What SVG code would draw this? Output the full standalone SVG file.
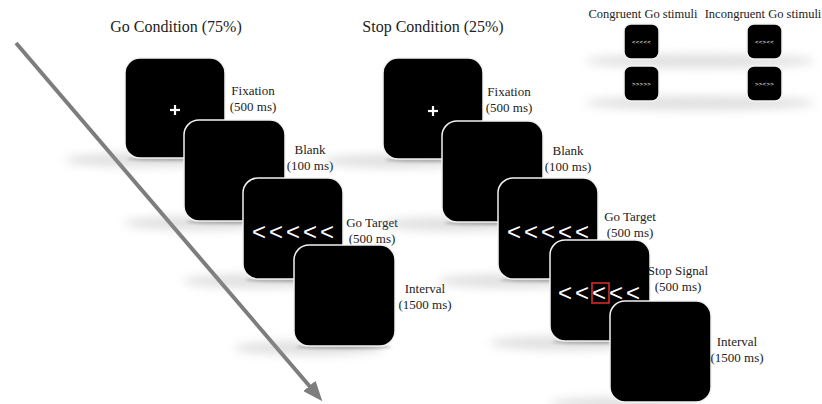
<svg xmlns="http://www.w3.org/2000/svg" width="822" height="404" viewBox="0 0 822 404">
  <style>
    .scr { fill: #000; stroke: #f2f2f2; stroke-width: 1.5; }
    .shd { fill: #9a9a9a; opacity: 0.3; filter: url(#blur); }
    .edge { fill: #555; opacity: 0.45; filter: url(#soft); }
    .lbl { font-family: "Liberation Serif", "Times New Roman", serif; font-size: 13px; fill: #222; text-anchor: middle; }
    .hdr { font-family: "Liberation Serif", "Times New Roman", serif; font-size: 12.5px; fill: #222; text-anchor: middle; }
    .ttl { font-family: "Liberation Serif", "Times New Roman", serif; font-size: 16px; fill: #222; text-anchor: middle; }
    .chev { font-family: "Liberation Sans", Arial, sans-serif; font-size: 24px; fill: #fff; letter-spacing: 3px; }
    .tiny { font-family: "Liberation Sans", Arial, sans-serif; font-size: 6px; fill: #fff; text-anchor: middle; letter-spacing: 0.3px; }
    .plus { stroke: #fff; stroke-width: 2.2; }
  </style>
  <defs>
    <filter id="blur" x="-50%" y="-300%" width="200%" height="700%">
      <feGaussianBlur stdDeviation="5"/>
    </filter>
    <filter id="soft" x="-20%" y="-300%" width="140%" height="700%">
      <feGaussianBlur stdDeviation="1.5"/>
    </filter>
    <marker id="head" markerUnits="userSpaceOnUse" markerWidth="20" markerHeight="16" refX="4" refY="8" orient="auto">
      <path d="M0,0 L20,8 L0,16 z" fill="#7d7d7d"/>
    </marker>
  </defs>
  <rect width="822" height="404" fill="#fff"/>

  <!-- time axis -->
  <g id="connectors">
    <line x1="16" y1="43" x2="312" y2="389" stroke="#7d7d7d" stroke-width="4" marker-end="url(#head)"/>
  </g>

  <!-- titles -->
  <text class="ttl" x="176" y="32">Go Condition (75%)</text>
  <text class="ttl" x="433" y="32">Stop Condition (25%)</text>

  <!-- Go condition sequence -->
  <g id="go-fixation">
    <ellipse class="shd" cx="140" cy="160" rx="75" ry="7"/>
    <ellipse class="edge" cx="175" cy="159" rx="48" ry="2"/>
    <rect class="scr" x="125" y="58" width="100" height="100" rx="15"/>
    <line class="plus" x1="170" y1="110" x2="180" y2="110"/>
    <line class="plus" x1="175" y1="105" x2="175" y2="115"/>
    <text class="lbl" x="253" y="95">Fixation</text>
    <text class="lbl" x="253" y="111">(500 ms)</text>
  </g>
  <g id="go-blank">
    <ellipse class="shd" cx="199" cy="223" rx="75" ry="7"/>
    <ellipse class="edge" cx="234" cy="222" rx="48" ry="2"/>
    <rect class="scr" x="184" y="120" width="101" height="101" rx="15"/>
    <text class="lbl" x="310" y="154">Blank</text>
    <text class="lbl" x="310" y="170">(100 ms)</text>
  </g>
  <g id="go-target">
    <ellipse class="shd" cx="258" cy="281" rx="75" ry="7"/>
    <ellipse class="edge" cx="293" cy="280" rx="48" ry="2"/>
    <rect class="scr" x="243" y="178" width="100" height="101" rx="15"/>
    <text class="chev" x="252" y="240">&lt;&lt;&lt;&lt;&lt;</text>
    <text class="lbl" x="372" y="227">Go Target</text>
    <text class="lbl" x="372" y="243">(500 ms)</text>
  </g>
  <g id="go-interval">
    <ellipse class="shd" cx="309" cy="348" rx="75" ry="7"/>
    <ellipse class="edge" cx="344" cy="347" rx="48" ry="2"/>
    <rect class="scr" x="294" y="245" width="101" height="101" rx="15"/>
    <text class="lbl" x="425" y="293">Interval</text>
    <text class="lbl" x="425" y="309">(1500 ms)</text>
  </g>

  <!-- Stop condition sequence -->
  <g id="stop-fixation">
    <ellipse class="shd" cx="398" cy="161" rx="75" ry="7"/>
    <ellipse class="edge" cx="433" cy="160" rx="48" ry="2"/>
    <rect class="scr" x="383" y="58" width="100" height="101" rx="15"/>
    <line class="plus" x1="428" y1="111" x2="438" y2="111"/>
    <line class="plus" x1="433" y1="106" x2="433" y2="116"/>
    <text class="lbl" x="509" y="96">Fixation</text>
    <text class="lbl" x="509" y="112">(500 ms)</text>
  </g>
  <g id="stop-blank">
    <ellipse class="shd" cx="457" cy="224" rx="75" ry="7"/>
    <ellipse class="edge" cx="492" cy="223" rx="48" ry="2"/>
    <rect class="scr" x="442" y="121" width="101" height="101" rx="15"/>
    <text class="lbl" x="568" y="155">Blank</text>
    <text class="lbl" x="568" y="171">(100 ms)</text>
  </g>
  <g id="stop-target">
    <ellipse class="shd" cx="513" cy="281" rx="75" ry="7"/>
    <ellipse class="edge" cx="548" cy="280" rx="48" ry="2"/>
    <rect class="scr" x="498" y="178" width="100" height="101" rx="15"/>
    <text class="chev" x="507" y="240">&lt;&lt;&lt;&lt;&lt;</text>
    <text class="lbl" x="630" y="221">Go Target</text>
    <text class="lbl" x="630" y="237">(500 ms)</text>
  </g>
  <g id="stop-signal">
    <ellipse class="shd" cx="565" cy="343" rx="75" ry="7"/>
    <ellipse class="edge" cx="600" cy="342" rx="48" ry="2"/>
    <rect class="scr" x="550" y="240" width="100" height="101" rx="15"/>
    <text class="chev" x="558" y="301">&lt;&lt;&lt;&lt;&lt;</text>
    <rect x="592" y="283" width="17" height="20" fill="none" stroke="#d42a2a" stroke-width="1.6"/>
    <text class="lbl" x="678" y="275">Stop Signal</text>
    <text class="lbl" x="678" y="291">(500 ms)</text>
  </g>
  <g id="stop-interval">
    <ellipse class="shd" cx="625" cy="404" rx="75" ry="7"/>
    <rect class="scr" x="610" y="301" width="101" height="101" rx="15"/>
    <text class="lbl" x="737" y="346">Interval</text>
    <text class="lbl" x="737" y="362">(1500 ms)</text>
  </g>

  <!-- stimulus examples -->
  <g id="stimuli">
    <text class="hdr" x="643" y="18">Congruent Go stimuli</text>
    <text class="hdr" x="763" y="18">Incongruent Go stimuli</text>
    <ellipse class="shd" cx="700" cy="61" rx="115" ry="7"/>
    <ellipse class="shd" cx="700" cy="103" rx="115" ry="7"/>
    <rect class="scr" x="624" y="24" width="35" height="35" rx="7"/>
    <rect class="scr" x="624" y="66" width="35" height="35" rx="7"/>
    <rect class="scr" x="747" y="24" width="35" height="35" rx="7"/>
    <rect class="scr" x="747" y="66" width="35" height="35" rx="7"/>
    <text class="tiny" x="641.5" y="43.5">&lt;&lt;&lt;&lt;&lt;</text>
    <text class="tiny" x="641.5" y="85.5">&gt;&gt;&gt;&gt;&gt;</text>
    <text class="tiny" x="764.5" y="43.5">&lt;&lt;&gt;&lt;&lt;</text>
    <text class="tiny" x="764.5" y="85.5">&gt;&gt;&lt;&gt;&gt;</text>
  </g>
</svg>
